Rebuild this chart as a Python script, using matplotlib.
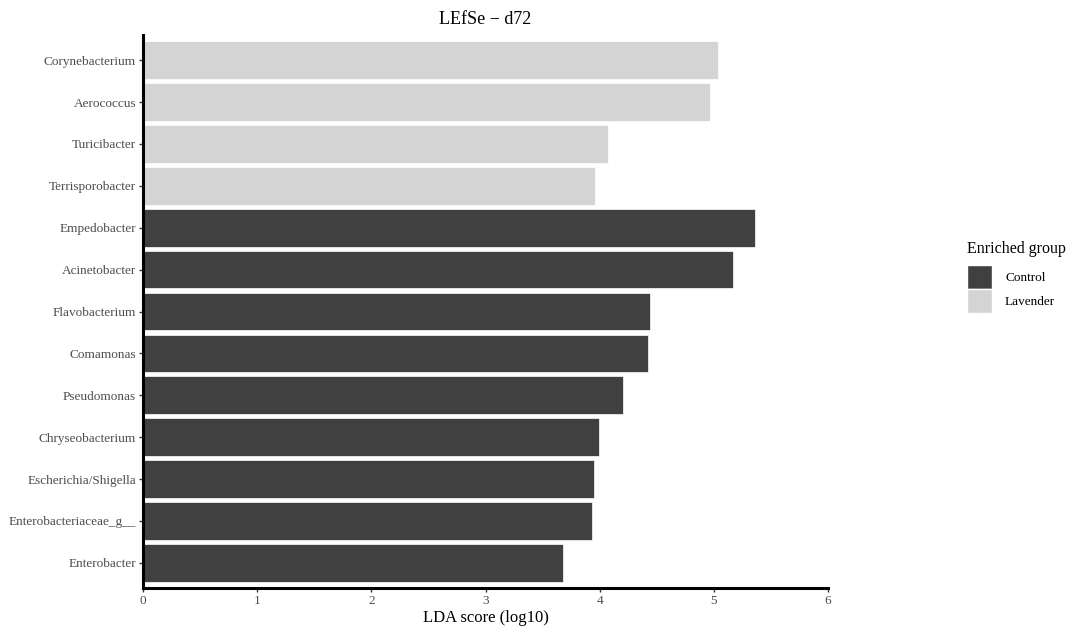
import numpy as np
import matplotlib
matplotlib.use('Agg')
import matplotlib.pyplot as plt
from matplotlib.patches import Patch

plt.rcParams['font.family'] = ['Liberation Serif', 'DejaVu Serif']

# taxa from top to bottom
taxa = ['Corynebacterium', 'Aerococcus', 'Turicibacter', 'Terrisporobacter',
        'Empedobacter', 'Acinetobacter', 'Flavobacterium', 'Comamonas',
        'Pseudomonas', 'Chryseobacterium', 'Escherichia/Shigella',
        'Enterobacteriaceae_g__', 'Enterobacter']
lda = [5.04, 4.97, 4.07, 3.96,
       5.36, 5.17, 4.44, 4.42,
       4.20, 3.99, 3.95, 3.93, 3.68]
group = ['Lavender'] * 4 + ['Control'] * 9
colors = {'Control': '#404040', 'Lavender': '#d4d4d4'}

fig = plt.figure(figsize=(10.69, 6.26), dpi=100)
ax = fig.add_axes([0.1338, 0.0607, 0.6408, 0.8833])

ypos = np.arange(len(taxa))[::-1] + 1
ax.barh(ypos, lda, height=0.9, color=[colors[g] for g in group],
        edgecolor='white', linewidth=0.5)

ax.set_xlim(0, 6)
ax.set_ylim(0.4, len(taxa) + 0.6)
ax.set_yticks(ypos)
ax.set_yticklabels(taxa, fontsize=9.5, color='#4d4d4d')
ax.set_xticks(range(7))
ax.set_xticklabels([str(i) for i in range(7)], fontsize=9.5, color='#4d4d4d')
ax.tick_params(axis='both', length=3, width=1, color='#333333', pad=2)
ax.set_xlabel('LDA score (log10)', fontsize=12, labelpad=2)
ax.set_title('LEfSe \u2212 d72', fontsize=13, pad=8)

for s in ['top', 'right']:
    ax.spines[s].set_visible(False)
for s in ['left', 'bottom']:
    ax.spines[s].set_linewidth(2.2)
    ax.spines[s].set_color('black')

handles = [Patch(facecolor=colors['Control'], edgecolor='white', label='Control'),
           Patch(facecolor=colors['Lavender'], edgecolor='white', label='Lavender')]
leg = fig.legend(handles=handles, title='Enriched group', loc='upper left',
                 bbox_to_anchor=(0.905, 0.615), frameon=False, fontsize=9.5,
                 title_fontsize=11.5, handlelength=1.85, handleheight=2.4,
                 labelspacing=0.0, handletextpad=1.0, borderpad=0.0,
                 borderaxespad=0.0)
leg._legend_box.align = 'left'
leg._legend_box.sep = 6

fig.savefig('out.png', dpi=100)
